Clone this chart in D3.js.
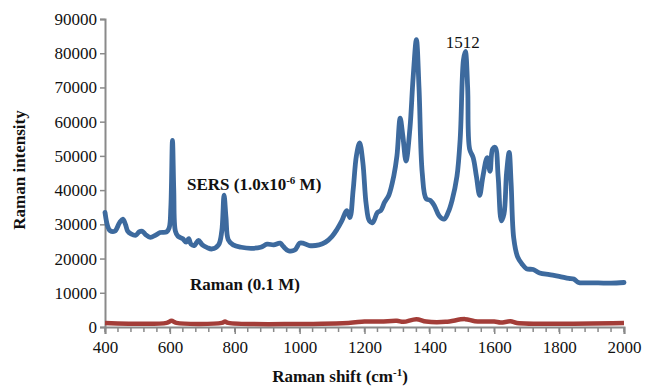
<!DOCTYPE html>
<html lang="en">
<head>
<meta charset="UTF-8" />
<title>Raman / SERS</title>
<script src="https://cdnjs.cloudflare.com/ajax/libs/d3/7.6.1/d3.min.js"></script>
<style>
  body { margin: 0; background: #fff; }
  svg text { font-family: "Times New Roman", "Liberation Serif", "DejaVu Serif", serif !important; fill: #111; }
</style>
</head>
<body>
<div id="chart"></div>
<script>
// SERS spectrum (1.0x10-6 M)
const sersShift = [400, 408, 415, 430, 445, 455, 463, 470, 480, 495, 505, 515, 525, 540, 555, 570, 590, 598, 603, 608, 612, 617, 625, 640, 650, 658, 665, 675, 688, 700, 715, 730, 750, 760, 767, 773, 780, 795, 820, 850, 880, 900, 920, 940, 950, 965, 985, 1000, 1010, 1030, 1060, 1080, 1100, 1115, 1130, 1145, 1155, 1165, 1175, 1185, 1195, 1205, 1215, 1225, 1240, 1250, 1262, 1275, 1290, 1300, 1310, 1318, 1328, 1340, 1350, 1360, 1368, 1378, 1390, 1403, 1415, 1430, 1445, 1458, 1470, 1485, 1495, 1505, 1511, 1518, 1524, 1535, 1545, 1555, 1565, 1578, 1587, 1595, 1603, 1612, 1622, 1630, 1638, 1646, 1652, 1660, 1672, 1685, 1700, 1720, 1740, 1770, 1800, 1830, 1845, 1860, 1880, 1920, 1960, 2000];
const sersInt = [33500, 29500, 28200, 28000, 30500, 31500, 30000, 28000, 27200, 26800, 27800, 28000, 27000, 26200, 26800, 27600, 27800, 29000, 35000, 54500, 40000, 28000, 26500, 25800, 24800, 25800, 24200, 23800, 25300, 24000, 23200, 22800, 24000, 28000, 38500, 32000, 25500, 24000, 23300, 23000, 23300, 24200, 24000, 24500, 23500, 22300, 22500, 24500, 24500, 23800, 24000, 24800, 26500, 28500, 31000, 34000, 32000, 40000, 50000, 53800, 48000, 36000, 31000, 30500, 33500, 34000, 36500, 38500, 44000, 50000, 61000, 56000, 48500, 58000, 73000, 84000, 70000, 45000, 37500, 37000, 35500, 32500, 31500, 33500, 37000, 44000, 55000, 78000, 80500, 70000, 52000, 49500, 44000, 38500, 44000, 49500, 45500, 52000, 52500, 44000, 31000, 33000, 45000, 51000, 42000, 26000, 20500, 18500, 17000, 16800, 15800, 15300, 14800, 14200, 14000, 13000, 12900, 12900, 12800, 13000];

// normal Raman spectrum (0.1 M)
const ramanShift = [400, 590, 605, 620, 760, 770, 780, 1150, 1200, 1250, 1300, 1320, 1360, 1390, 1450, 1510, 1540, 1600, 1620, 1650, 1670, 2000];
const ramanInt = [1200, 1200, 1800, 1200, 1200, 1600, 1200, 1200, 1600, 1600, 1800, 1500, 2300, 1600, 1500, 2300, 1700, 1600, 1300, 1650, 1200, 1200];

const xTicks = [400, 600, 800, 1000, 1200, 1400, 1600, 1800, 2000];
const yTicks = [0, 10000, 20000, 30000, 40000, 50000, 60000, 70000, 80000, 90000];

const width = 646, height = 389;
const margin = { left: 105, right: 22, top: 19, bottom: 62 };
const serif = "'Times New Roman', 'Liberation Serif', serif";

const svg = d3.select("#chart").append("svg")
  .attr("width", width).attr("height", height);

const x = d3.scaleLinear().domain([400, 2000]).range([margin.left, width - margin.right]);
const y = d3.scaleLinear().domain([0, 90000]).range([height - margin.bottom, margin.top]);

const axisColor = "#8a8a8a";

// minor ticks on x, every 40 cm-1
const gx = svg.append("g").attr("transform", `translate(0,${y(0)})`);
gx.selectAll("line.minor").data(d3.range(400, 2001, 40)).join("line")
  .attr("x1", d => x(d)).attr("x2", d => x(d))
  .attr("y1", 0).attr("y2", 5)
  .attr("stroke", axisColor).attr("stroke-width", 1.5);
gx.call(d3.axisBottom(x).tickValues(xTicks).tickSize(7).tickFormat(d3.format("d")))
  .attr("font-family", serif)
  .call(g => g.select(".domain").attr("stroke", axisColor).attr("stroke-width", 2))
  .call(g => g.selectAll(".tick line").attr("stroke", axisColor).attr("stroke-width", 1.5))
  .call(g => g.selectAll(".tick text").attr("font-size", 17).attr("dy", "0.95em").attr("fill", "#111"));

const gy = svg.append("g").attr("transform", `translate(${x(400)},0)`);
gy.call(d3.axisLeft(y).tickValues(yTicks).tickSize(5).tickFormat(d3.format("d")))
  .attr("font-family", serif)
  .call(g => g.select(".domain").attr("stroke", axisColor).attr("stroke-width", 2))
  .call(g => g.selectAll(".tick line").attr("stroke", axisColor).attr("stroke-width", 1.5))
  .call(g => g.selectAll(".tick text").attr("font-size", 17).attr("x", -8).attr("fill", "#111"));

const line = d3.line().x(d => x(d[0])).y(d => y(d[1])).curve(d3.curveCatmullRom.alpha(0.5));

svg.append("path")
  .datum(d3.zip(ramanShift, ramanInt))
  .attr("d", line)
  .attr("fill", "none").attr("stroke", "#a33d38").attr("stroke-width", 4.5)
  .attr("stroke-linejoin", "round");

svg.append("path")
  .datum(d3.zip(sersShift, sersInt))
  .attr("d", line)
  .attr("fill", "none").attr("stroke", "#3d6a9e").attr("stroke-width", 4.8)
  .attr("stroke-linejoin", "round").attr("stroke-linecap", "round");

// annotations
const sers = svg.append("text").attr("x", 187).attr("y", 190)
  .attr("font-family", serif).attr("font-size", 17).attr("font-weight", "bold");
sers.append("tspan").text("SERS (1.0x10");
sers.append("tspan").attr("dy", -6).attr("font-size", 11).text("-6");
sers.append("tspan").attr("dy", 6).text(" M)");

svg.append("text").attr("x", 190).attr("y", 290)
  .attr("font-family", serif).attr("font-size", 17).attr("font-weight", "bold").text("Raman (0.1 M)");

svg.append("text").attr("x", x(1512) - 3).attr("y", 48).attr("text-anchor", "middle")
  .attr("font-family", serif).attr("font-size", 17).text("1512");

// axis titles
const xt = svg.append("text").attr("x", 340).attr("y", 382).attr("text-anchor", "middle")
  .attr("font-family", serif).attr("font-size", 17).attr("font-weight", "bold");
xt.append("tspan").text("Raman shift (cm");
xt.append("tspan").attr("dy", -6).attr("font-size", 11).text("-1");
xt.append("tspan").attr("dy", 6).text(")");

svg.append("text").attr("transform", "translate(25,170) rotate(-90)")
  .attr("font-family", serif)
  .attr("text-anchor", "middle").attr("font-size", 17).attr("font-weight", "bold")
  .text("Raman intensity");
</script>
</body>
</html>
